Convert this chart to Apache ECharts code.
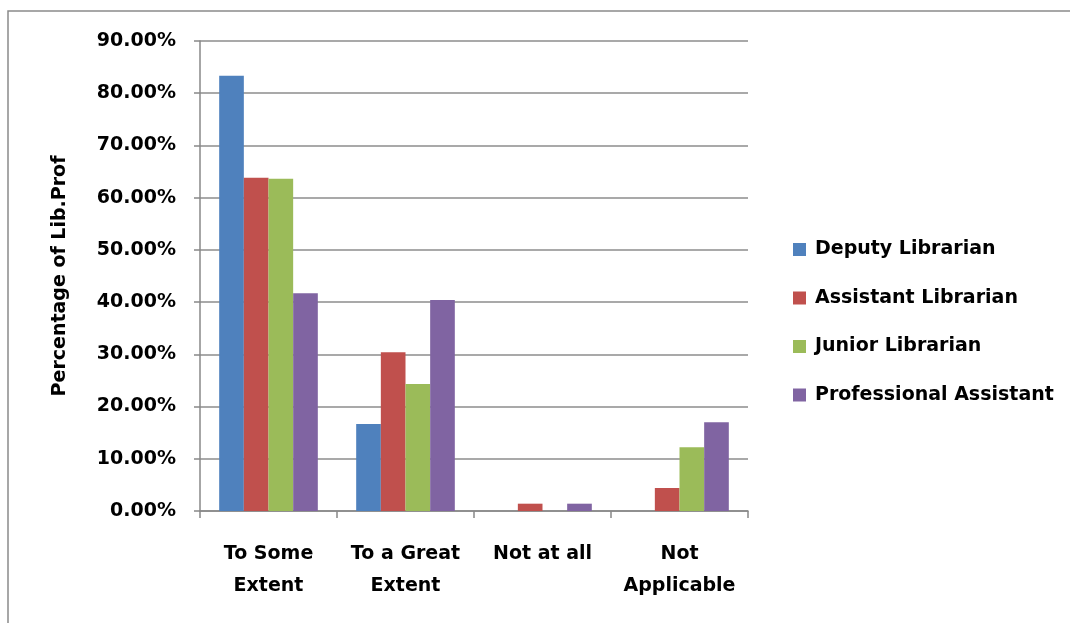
<!DOCTYPE html>
<html>
<head>
<meta charset="utf-8">
<script src="https://cdn.jsdelivr.net/npm/echarts@6/dist/echarts.min.js"></script>
<style>
  html, body { margin: 0; padding: 0; background: #fff; }
  #chart { width: 1070px; height: 623px; }
</style>
</head>
<body>
<div id="chart"></div>
<script>
// Survey responses by staff category (percent of library professionals)
const categories = ['To Some\nExtent', 'To a Great\nExtent', 'Not at all', 'Not\nApplicable'];
const seriesNames = ['Deputy Librarian', 'Assistant Librarian', 'Junior Librarian', 'Professional Assistant'];
const deputyLibrarian = [83.33, 16.67, 0, 0];
const assistantLibrarian = [63.8, 30.4, 1.4, 4.4];
const juniorLibrarian = [63.6, 24.3, 0, 12.2];
const professionalAssistant = [41.7, 40.4, 1.4, 17.0];
const yTicks = { min: 0, max: 90, interval: 10 };

const colors = ['#4F81BD', '#C0504D', '#9BBB59', '#8064A2'];
const values = [deputyLibrarian, assistantLibrarian, juniorLibrarian, professionalAssistant];
const FONT = '"DejaVu Sans"';

const chart = echarts.init(document.getElementById('chart'), null, { renderer: 'canvas' });
chart.setOption({
  animation: false,
  backgroundColor: '#ffffff',
  color: colors,
  graphic: [{
    type: 'rect',
    shape: { x: 8, y: 11, width: 1200, height: 800 },
    style: { fill: 'none', stroke: '#8a8a8a', lineWidth: 1.5 },
    z: -1
  }],
  grid: { left: 200, right: 322, top: 41, bottom: 112, containLabel: false },
  legend: {
    orient: 'vertical',
    left: 788,
    top: 235,
    itemWidth: 13,
    itemHeight: 13,
    itemGap: 29.5,
    icon: 'rect',
    textStyle: { fontFamily: FONT, fontSize: 19, fontWeight: 'bold', color: '#000', padding: [0, 0, 0, 4] },
    data: seriesNames
  },
  xAxis: {
    type: 'category',
    data: categories,
    axisLine: { lineStyle: { color: '#888', width: 1.5 } },
    axisTick: { show: true, length: 7, lineStyle: { color: '#888', width: 1.5 } },
    axisLabel: {
      fontFamily: FONT, fontSize: 19, fontWeight: 'bold', color: '#000',
      lineHeight: 32, margin: 27, interval: 0
    }
  },
  yAxis: {
    type: 'value',
    min: yTicks.min, max: yTicks.max, interval: yTicks.interval,
    name: 'Percentage of Lib.Prof',
    nameLocation: 'middle',
    nameGap: 130,
    nameRotate: 90,
    nameTextStyle: { fontFamily: FONT, fontSize: 19, fontWeight: 'bold', color: '#000' },
    axisLine: { show: true, lineStyle: { color: '#888', width: 1.5 } },
    axisTick: { show: true, length: 6, lineStyle: { color: '#888', width: 1.5 } },
    splitLine: { lineStyle: { color: '#8c8c8c', width: 1.5 } },
    axisLabel: {
      fontFamily: FONT, fontSize: 19, fontWeight: 'bold', color: '#000', margin: 24,
      formatter: v => v.toFixed(2) + '%'
    }
  },
  series: seriesNames.map((name, i) => ({
    name,
    type: 'bar',
    data: values[i],
    barGap: '0%',
    barCategoryGap: '28%',
    itemStyle: { color: colors[i] }
  }))
});
</script>
</body>
</html>
